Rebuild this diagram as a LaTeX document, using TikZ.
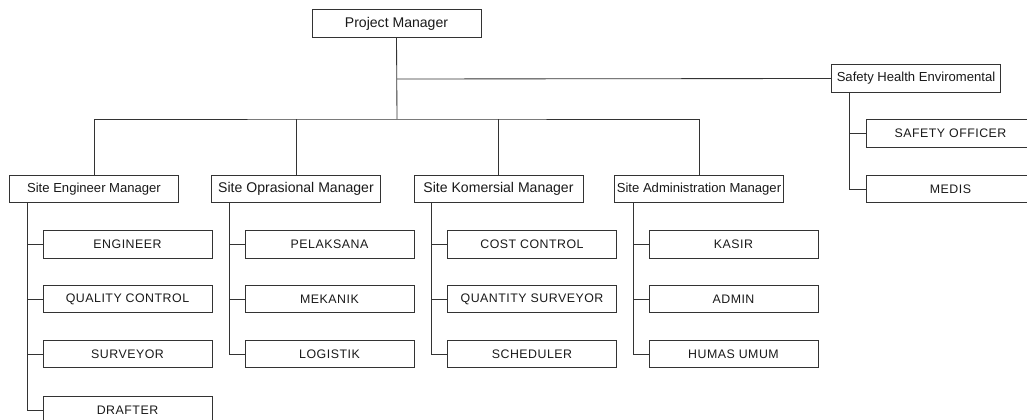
\documentclass[tikz,border=0pt]{standalone}
\usepackage{fontspec}
\setmainfont{Liberation Sans}
\newfontfamily\capsfont[LetterSpace=4]{Liberation Sans}
\begin{document}
\begin{tikzpicture}[x=0.025cm,y=-0.025cm,
  color=black!80, line width=0.6pt,
  box/.style={draw,text=black!90,rectangle,inner sep=0pt,minimum width=4.22cm,minimum height=0.69cm,font=\fontsize{9.5}{11}\selectfont},
  capbox/.style={box,font=\capsfont\fontsize{8.8}{10}\selectfont}]
\clip (0,0) rectangle (1027,420);
% top
\node[box,font=\fontsize{10}{12}\selectfont] (pm) at (396.5,23.5) {Project Manager};
\node[box,font=\fontsize{9.3}{11}\selectfont] (she) at (916,78.5) {Safety Health Enviromental};
% level 2
\node[box,font=\fontsize{9.3}{11}\selectfont] (se) at (94,189) {Site Engineer Manager};
\node[box,font=\fontsize{10}{12}\selectfont] (so) at (296,189) {Site Oprasional Manager};
\node[box,font=\fontsize{10}{12}\selectfont] (sk) at (498.5,189) {Site Komersial Manager};
\node[box,font=\fontsize{9.3}{11}\selectfont] (sa) at (699,189) {Site Administration Manager};
% children
\node[capbox] (e1) at (127.5,244.5) {ENGINEER};
\node[capbox] (e2) at (127.5,299) {QUALITY CONTROL};
\node[capbox] (e3) at (127.5,354) {SURVEYOR};
\node[capbox] (e4) at (127.5,410) {DRAFTER};
\node[capbox] (o1) at (329.5,244.5) {PELAKSANA};
\node[capbox] (o2) at (329.5,299) {MEKANIK};
\node[capbox] (o3) at (329.5,354) {LOGISTIK};
\node[capbox] (k1) at (532,244.5) {COST CONTROL};
\node[capbox] (k2) at (532,299) {QUANTITY SURVEYOR};
\node[capbox] (k3) at (532,354) {SCHEDULER};
\node[capbox] (a1) at (733.5,244.5) {KASIR};
\node[capbox] (a2) at (733.5,299) {ADMIN};
\node[capbox] (a3) at (733.5,354) {HUMAS UMUM};
\node[capbox] (h1) at (950.5,133.5) {SAFETY OFFICER};
\node[capbox] (h2) at (950.5,189) {MEDIS};
% connectors
\coordinate (j1) at (397,79);
\coordinate (j2) at (397,119);
\draw (pm.south) -- (j2);
\draw (j1) -- (she.west);
\draw (se.north) |- (j2) -| (sa.north);
\draw (so.north) -- (so.north |- j2);
\draw (sk.north) -- (sk.north |- j2);
% spines
\coordinate (sesp) at (27,203);
\coordinate (sosp) at (229,203);
\coordinate (sksp) at (431,203);
\coordinate (sasp) at (633,203);
\coordinate (shsp) at (849,92);
\draw (sesp) |- (e4.west);
\draw (sesp |- e1.west) -- (e1.west);
\draw (sesp |- e2.west) -- (e2.west);
\draw (sesp |- e3.west) -- (e3.west);
\draw (sosp) |- (o3.west);
\draw (sosp |- o1.west) -- (o1.west);
\draw (sosp |- o2.west) -- (o2.west);
\draw (sksp) |- (k3.west);
\draw (sksp |- k1.west) -- (k1.west);
\draw (sksp |- k2.west) -- (k2.west);
\draw (sasp) |- (a3.west);
\draw (sasp |- a1.west) -- (a1.west);
\draw (sasp |- a2.west) -- (a2.west);
\draw (shsp) |- (h2.west);
\draw (shsp |- h1.west) -- (h1.west);
\end{tikzpicture}
\end{document}
